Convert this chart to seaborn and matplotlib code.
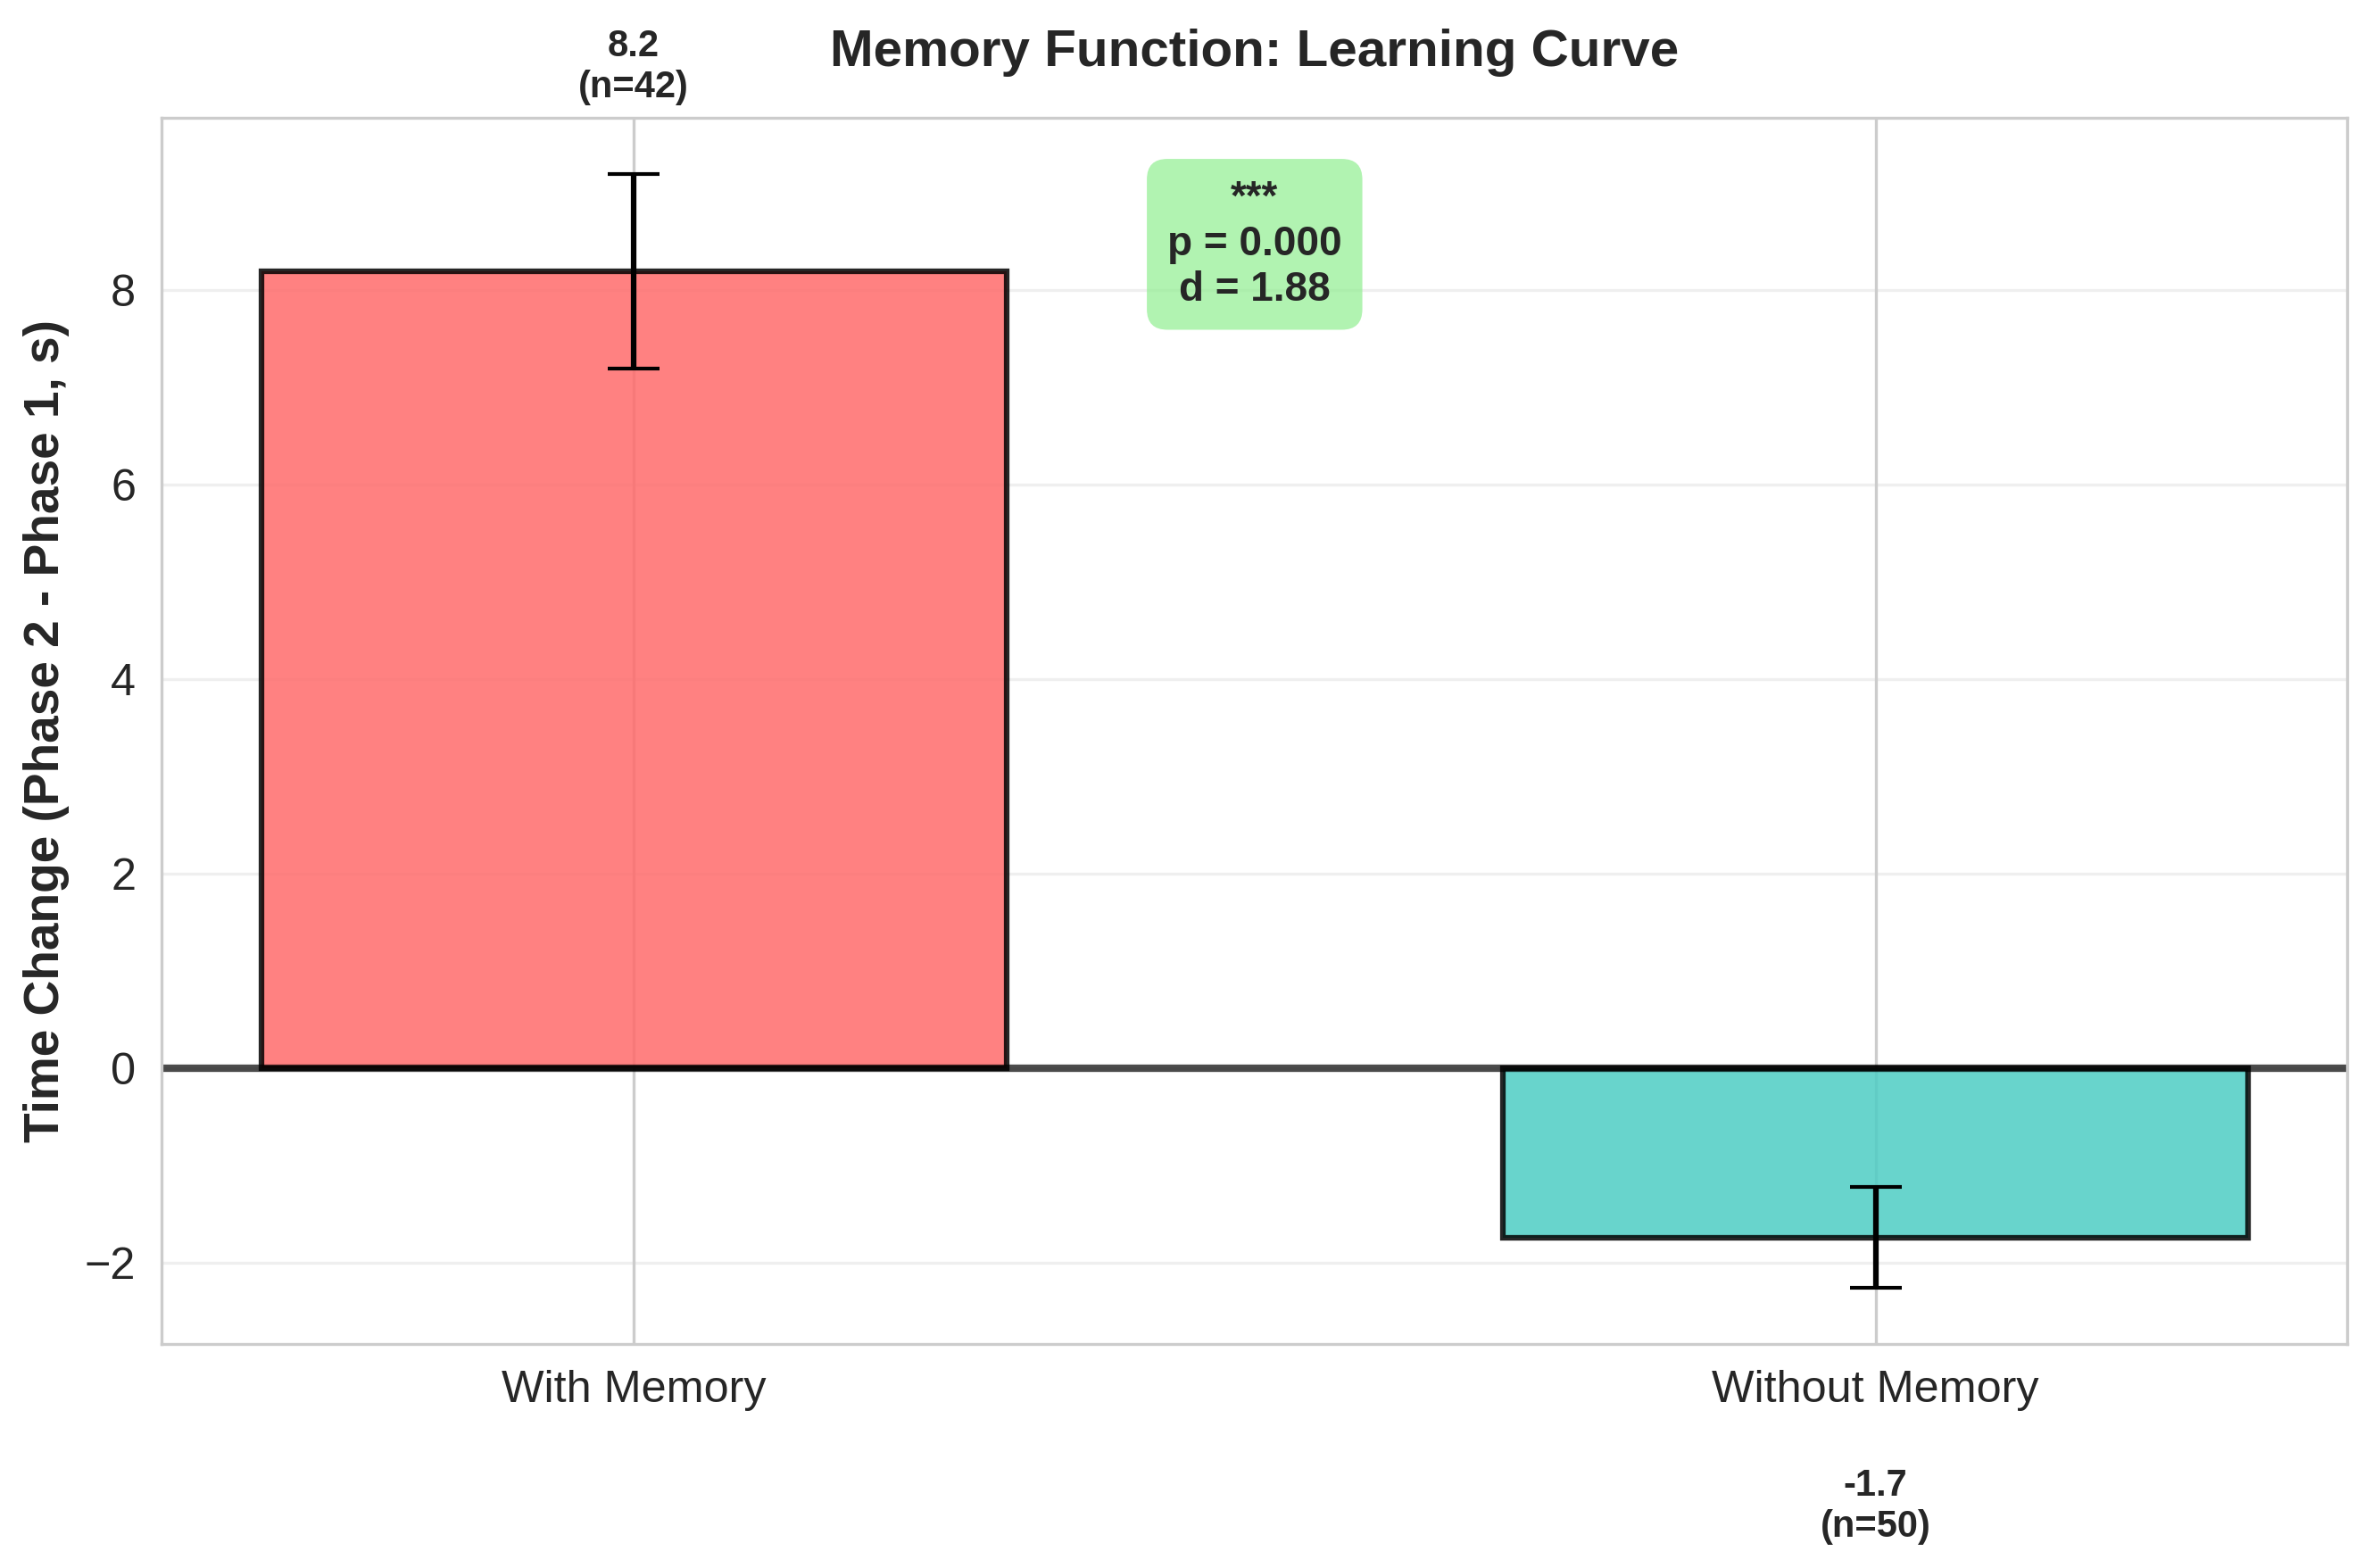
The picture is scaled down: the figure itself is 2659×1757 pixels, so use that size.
import numpy as np
import pandas as pd
import seaborn as sns
import matplotlib.pyplot as plt

sns.set_style('whitegrid')
plt.rcParams['font.family'] = ['Liberation Sans', 'DejaVu Sans']

groups  = ['With Memory', 'Without Memory']
means   = [8.2, -1.74]
errors  = [1.0, 0.52]
counts  = [42, 50]
colors  = ['#FF6B6B', '#4ECDC4']
p_value = 0.0001
cohen_d = 1.88

df = pd.DataFrame({'group': groups, 'change': means})

fig = plt.figure(figsize=(2659 / 300, 1757 / 300), dpi=300)
ax = fig.add_axes([0.0682, 0.1429, 0.921, 0.7818])

sns.barplot(data=df, x='group', y='change', hue='group', palette=colors,
            saturation=1, width=0.6, alpha=0.85, edgecolor='black', linewidth=1.5,
            errorbar=None, legend=False, ax=ax)
ax.errorbar(range(len(groups)), means, yerr=errors, fmt='none',
            ecolor='black', elinewidth=1.5, capsize=7, capthick=1.0)

ax.axhline(0, color='black', linewidth=2, alpha=0.7)

# value labels above / below the bars
for i, (m, e, n) in enumerate(zip(means, errors, counts)):
    if m >= 0:
        ax.text(i, m + e + 0.7, f'{m:.1f}\n(n={n})', ha='center', va='bottom',
                fontsize=10, fontweight='bold')
    else:
        ax.text(i, m - e - 1.85, f'{m:.1f}\n(n={n})', ha='center', va='top',
                fontsize=10, fontweight='bold')

sig = '***' if p_value < 0.001 else ('**' if p_value < 0.01 else ('*' if p_value < 0.05 else 'ns'))
ax.text(0.5, 0.95, f'{sig}\np = {p_value:.3f}\nd = {cohen_d:.2f}',
        transform=ax.transAxes, ha='center', va='top', fontsize=11, fontweight='bold',
        bbox=dict(boxstyle='round,pad=0.5', facecolor='lightgreen', alpha=0.7, edgecolor='none'))

ax.set_xlim(-0.38, 1.38)
ax.set_xlabel('')
ax.set_ylabel('Time Change (Phase 2 - Phase 1, s)', fontsize=13.2, fontweight='bold')
ax.set_title('Memory Function: Learning Curve', fontsize=14, fontweight='bold', pad=14)
ax.tick_params(axis='both', labelsize=12.1)
ax.xaxis.grid(True)
ax.yaxis.grid(True, alpha=0.3)
ax.set_axisbelow(True)
for s in ax.spines.values():
    s.set_linewidth(0.8)

fig.savefig('out.png', dpi=300)
